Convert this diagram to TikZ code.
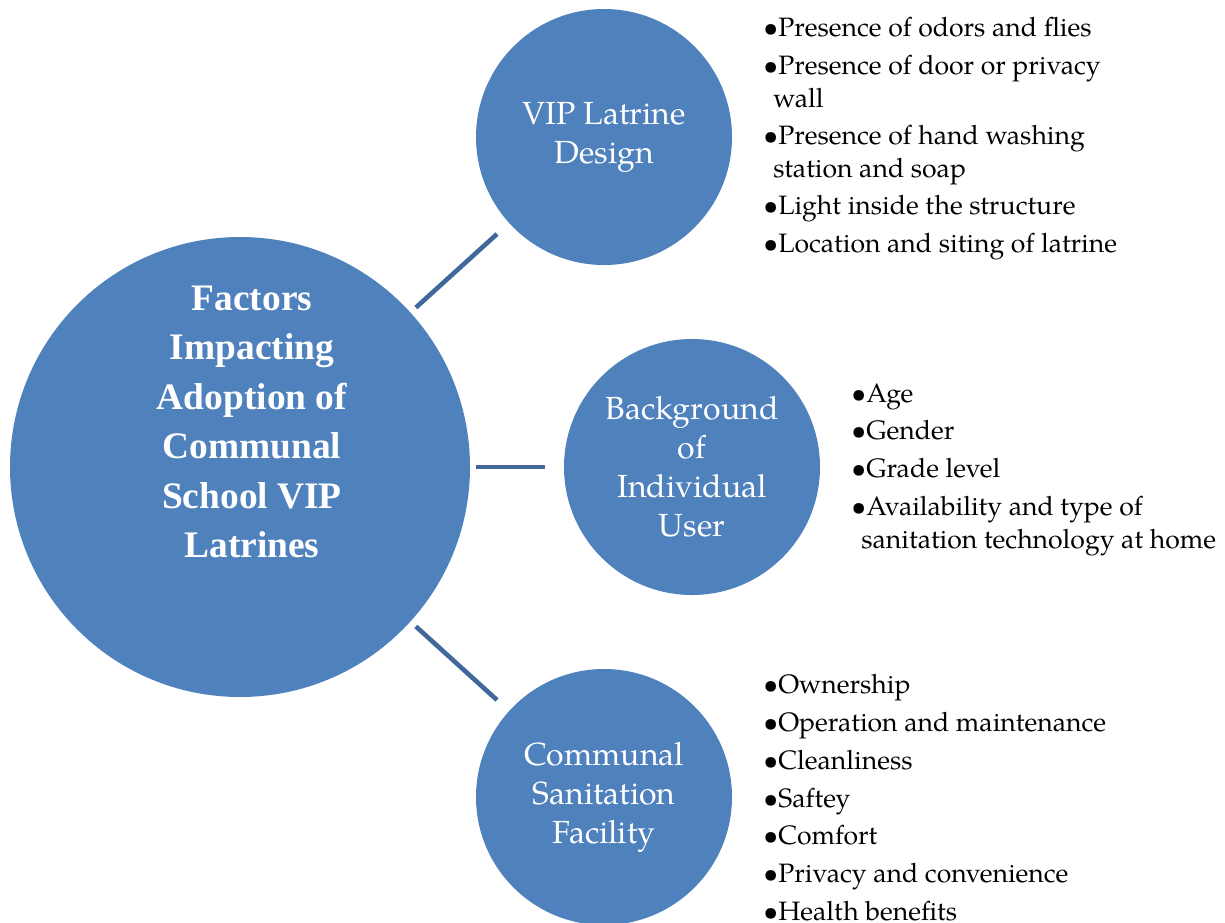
\documentclass[tikz,border=0pt]{standalone}
\usepackage{fontspec}
\setmainfont{Liberation Serif}
\newfontfamily\pagella{TeX Gyre Pagella}
\definecolor{circleblue}{HTML}{4F81BD}
\definecolor{lineblue}{HTML}{41689C}
\tikzstyle{hub}=[circle, fill=circleblue, draw=none, inner sep=0, minimum size=230pt]
\tikzstyle{hubtext}=[%
	text=white, align=center, inner sep=0,
	font=\bfseries\fontsize{18.7}{24.7}\selectfont%
]
\tikzstyle{bubble}=[%
	circle, fill=circleblue, draw=none, inner sep=0, minimum size=128pt,
	text=white, align=center, font=\pagella\fontsize{16}{19.5}\selectfont%
]
\tikzstyle{items}=[%
	anchor=north west, align=left, inner sep=0,
	font=\pagella\fontsize{13.3}{16.5}\selectfont%
]
\tikzstyle{link}=[line width=2.3pt, lineblue]

\begin{document}
\begin{tikzpicture}[x=0.5pt, y=-0.5pt]
	\useasboundingbox (0,0) rectangle (1225,922);

	\node[hub] (hub) at (240,467) {};
	\node[hubtext] (title) at (252,422) {Factors\\Impacting\\Adoption of\\Communal\\School VIP\\Latrines};

	\node[bubble] (design) at (604,137) {VIP Latrine\\Design};
	\node[bubble] (user) at (692,467) {Background\\of\\Individual\\User};
	\node[bubble] (facility) at (604,797) {Communal\\Sanitation\\Facility};

	\draw[link, shorten <=3.5pt, shorten >=8pt] (hub) -- (design);
	\draw[link, shorten <=3pt, shorten >=9.5pt] (hub) -- (user);
	\draw[link, shorten <=3.5pt, shorten >=8pt] (hub) -- (facility);

	\node[items] (designlist) at (763,17) {%
		•Presence of odors and flies\\[2.2pt]%
		•Presence of door or privacy\\%
		\hspace*{5pt}wall\\[2.2pt]%
		•Presence of hand washing\\%
		\hspace*{5pt}station and soap\\[2.2pt]%
		•Light inside the structure\\[2.2pt]%
		•Location and siting of latrine%
	};
	\node[items] (userlist) at (851,383) {%
		•Age\\[2.4pt]%
		•Gender\\[2.4pt]%
		•Grade level\\[2.4pt]%
		•Availability and type of\\%
		\hspace*{5pt}sanitation technology at home%
	};
	\node[items] (facilitylist) at (763,674) {%
		•Ownership\\[2.4pt]%
		•Operation and maintenance\\[2.4pt]%
		•Cleanliness\\[2.4pt]%
		•Saftey\\[2.4pt]%
		•Comfort\\[2.4pt]%
		•Privacy and convenience\\[2.4pt]%
		•Health benefits%
	};
\end{tikzpicture}
\end{document}
